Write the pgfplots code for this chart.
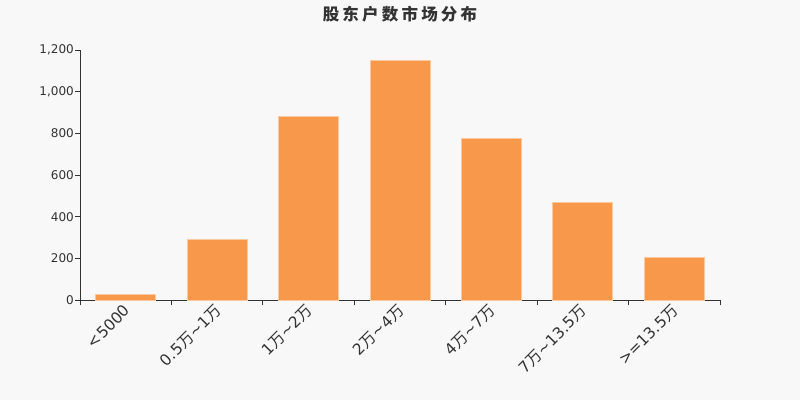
\documentclass[border=0pt]{standalone}
\usepackage{fontspec}
\setmainfont{DejaVu Sans}
\newfontfamily\cjk{Noto Sans CJK SC}
\usepackage{pgfplots}
\pgfplotsset{compat=1.18}
\definecolor{bg}{HTML}{F8F8F8}
\definecolor{barfill}{HTML}{F7984A}
\definecolor{barline}{HTML}{FAC9A0}
\definecolor{txt}{HTML}{333333}
\newcommand{\wan}{{\cjk 万}}

\begin{document}
\begin{tikzpicture}[x=1pt,y=1pt]
\fill[bg] (0,0) rectangle (800,400);
\useasboundingbox (0,0) rectangle (800,400);
\node[txt, font=\cjk\bfseries\fontsize{16.5}{16.5}\selectfont] at (400,386)
  {股\hspace{3.2pt}东\hspace{3.2pt}户\hspace{3.2pt}数\hspace{3.2pt}市\hspace{3.2pt}场\hspace{3.2pt}分\hspace{3.2pt}布};
\begin{axis}[
    at={(80pt,100pt)}, anchor=south west,
    scale only axis, width=640pt, height=250pt,
    xmin=-0.5, xmax=6.5, ymin=0, ymax=1200,
    axis x line*=bottom, axis y line*=left,
    axis line style={txt, line width=0.8pt, -},
    ybar, bar width=60pt,
    xtick={0,...,6},
    xticklabels={{<5000},{0.5\wan\textasciitilde1\wan},{1\wan\textasciitilde2\wan},{2\wan\textasciitilde4\wan},{4\wan\textasciitilde7\wan},{7\wan\textasciitilde13.5\wan},{>=13.5\wan}},
    minor xtick={-0.5,0.5,...,6.5},
    major x tick style={draw=none},
    minor x tick style={txt, line width=0.8pt},
    minor tick length=5pt,
    ytick={0,200,...,1200},
    major y tick style={txt, line width=0.8pt},
    major tick length=5pt,
    tick align=outside,
    /pgf/number format/assume math mode=true,
    /pgf/number format/1000 sep={,},
    yticklabel style={txt, font=\fontsize{12}{12}\selectfont, inner sep=1pt},
    xticklabel style={txt, font=\fontsize{15.5}{15.5}\selectfont, rotate=45, anchor=east, inner sep=1pt, yshift=-3pt},
  ]
  \addplot[fill=barfill, draw=barline, line width=0.8pt] coordinates {
    (0,27) (1,291) (2,882) (3,1149) (4,776) (5,469) (6,205)
  };
\end{axis}
\end{tikzpicture}
\end{document}
